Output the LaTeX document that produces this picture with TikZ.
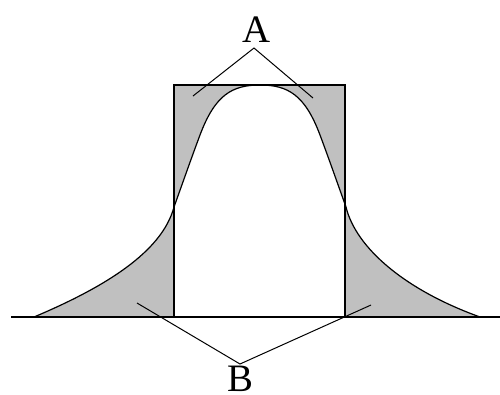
\documentclass[tikz,border=0pt]{standalone}
\usepackage{fontspec}
\setmainfont{Liberation Serif}
\definecolor{fillgray}{HTML}{C0C0C0}
\begin{document}
\begin{tikzpicture}[x=1bp,y=-1bp,line width=1.2bp,
  lbl/.style={font=\fontsize{39}{42}\selectfont,inner sep=0pt}]
\useasboundingbox (0,0) rectangle (500,394);
\def\bell{(34,317) .. controls (105,287) and (162,252) .. (174,207)
  .. controls (183,182) and (191,159) .. (200,135)
  .. controls (215,95) and (232,85) .. (260,85)
  .. controls (288,85) and (305,95) .. (320,135)
  .. controls (329,159) and (337,182) .. (346,207)
  .. controls (356,248) and (405,290) .. (480,317)}
\fill[fillgray,even odd rule] (174,85) rectangle (345,317) \bell -- cycle;
\draw \bell;
\draw (174,85) rectangle (345,317);
\coordinate (bl) at (11,317);
\coordinate (br) at (500,317);
\draw (bl) -- (br);
\node[lbl,anchor=base] (A) at (257,42) {A};
\node[lbl,anchor=base] (B) at (240,391) {B};
\coordinate (apexA) at (254,48);
\coordinate (a1) at (193,96);
\coordinate (a2) at (313,98);
\coordinate (apexB) at (240,364);
\coordinate (b1) at (137,303);
\coordinate (b2) at (371,305);
\draw[line width=1bp] (a1) -- (apexA) -- (a2);
\draw[line width=1bp] (b1) -- (apexB) -- (b2);
\end{tikzpicture}
\end{document}
